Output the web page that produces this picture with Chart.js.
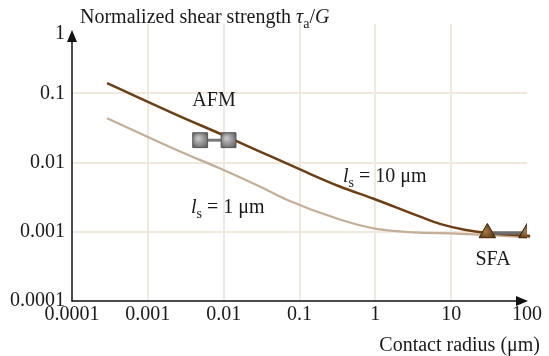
<!DOCTYPE html>
<html>
<head>
<meta charset="utf-8">
<script src="https://cdn.jsdelivr.net/npm/chart.js@4/dist/chart.umd.min.js"></script>
<style>
  html, body { margin: 0; padding: 0; background: #ffffff; }
  #wrap { width: 549px; height: 356px; }
</style>
</head>
<body>
<div id="wrap"><canvas id="c" width="549" height="356"></canvas></div>
<script>
// ---- data ----
const xTickValues = [0.0001, 0.001, 0.01, 0.1, 1, 10, 100];
const xTickLabels = ['0.0001', '0.001', '0.01', '0.1', '1', '10', '100'];
const yTickValues = [0.0001, 0.001, 0.01, 0.1, 1];
const yTickLabels = ['0.0001', '0.001', '0.01', '0.1', '1'];

// l_s = 10 µm curve
const ls10X = [0.00029, 0.0027, 0.009, 0.03, 0.1, 0.34, 0.95, 3.9, 7.1, 15, 30, 110];
const ls10Y = [0.14, 0.046, 0.026, 0.0144, 0.008, 0.0045, 0.003, 0.00165, 0.0013, 0.00107, 0.00096, 0.00087];

// l_s = 1 µm curve
const ls1X = [0.00029, 0.0027, 0.009, 0.03, 0.068, 0.34, 0.95, 3.9, 10, 110];
const ls1Y = [0.0435, 0.0143, 0.0082, 0.0045, 0.0029, 0.0015, 0.00112, 0.00097, 0.00095, 0.00083];

// AFM and SFA measurement ranges
const afmX = [0.0049, 0.0116];
const afmY = [0.021, 0.021];
const sfaX = [30, 100];
const sfaY = [0.00096, 0.00096];

const FONT = "'Liberation Serif', 'Times New Roman', serif";
const GRID = '#efe9df';

function pts(xs, ys) { return xs.map((x, i) => ({ x: x, y: ys[i] })); }

function gradFill(c, inner, outer) {
  if (c.type !== 'data' || !c.chart.chartArea) return outer;
  const ch = c.chart;
  const px = ch.scales.x.getPixelForValue(c.raw.x);
  const py = ch.scales.y.getPixelForValue(c.raw.y);
  const g = ch.ctx.createRadialGradient(px - 2, py - 2, 1, px, py, 10);
  g.addColorStop(0, inner);
  g.addColorStop(1, outer);
  return g;
}

function drawRuns(ctx, x, y, runs, align) {
  const base = 20, sub = 14;
  let total = 0;
  runs.forEach(r => {
    ctx.font = (r.italic ? 'italic ' : '') + (r.sub ? sub : base) + 'px ' + FONT;
    r.w = ctx.measureText(r.t).width;
    total += r.w;
  });
  let cx = align === 'center' ? x - total / 2 : (align === 'right' ? x - total : x);
  ctx.textAlign = 'left';
  ctx.textBaseline = 'alphabetic';
  runs.forEach(r => {
    ctx.font = (r.italic ? 'italic ' : '') + (r.sub ? sub : base) + 'px ' + FONT;
    ctx.fillText(r.t, cx, y + (r.sub ? 5 : 0));
    cx += r.w;
  });
}

const decor = {
  id: 'decor',
  afterDraw(chart) {
    const ctx = chart.ctx, a = chart.chartArea;
    ctx.save();
    ctx.strokeStyle = '#111';
    ctx.fillStyle = '#111';
    ctx.lineWidth = 1.5;
    // y axis with arrow
    ctx.beginPath(); ctx.moveTo(a.left, a.bottom + 0.5); ctx.lineTo(a.left, a.top + 14); ctx.stroke();
    ctx.beginPath(); ctx.moveTo(a.left, a.top + 6); ctx.lineTo(a.left - 5, a.top + 18); ctx.lineTo(a.left + 5, a.top + 18); ctx.closePath(); ctx.fill();
    // x axis with arrow
    ctx.beginPath(); ctx.moveTo(a.left - 0.5, a.bottom); ctx.lineTo(a.right - 8, a.bottom); ctx.stroke();
    ctx.beginPath(); ctx.moveTo(a.right + 1, a.bottom); ctx.lineTo(a.right - 11, a.bottom - 5); ctx.lineTo(a.right - 11, a.bottom + 5); ctx.closePath(); ctx.fill();

    // top tick label sits beside the arrow head
    ctx.fillStyle = '#1a1a1a';
    ctx.font = '20px ' + FONT;
    ctx.textAlign = 'right';
    ctx.textBaseline = 'middle';
    ctx.fillText(yTickLabels[yTickLabels.length - 1], a.left - 7, a.top + 10);

    // texts
    drawRuns(ctx, 80, 23, [
      { t: 'Normalized shear strength ' },
      { t: 'τ', italic: true },
      { t: 'a', sub: true },
      { t: '/' },
      { t: 'G', italic: true }
    ]);
    drawRuns(ctx, 540, 351, [{ t: 'Contact radius (μm)' }], 'right');
    drawRuns(ctx, 214, 106, [{ t: 'AFM' }], 'center');
    drawRuns(ctx, 493, 265, [{ t: 'SFA' }], 'center');
    drawRuns(ctx, 191, 213, [{ t: 'l', italic: true }, { t: 's', sub: true }, { t: ' = 1 μm' }]);
    drawRuns(ctx, 343, 182, [{ t: 'l', italic: true }, { t: 's', sub: true }, { t: ' = 10 μm' }]);
    ctx.restore();
  }
};

const gridColor = (c) => {
  if (!c.tick) return GRID;
  const v = c.tick.value, s = c.scale;
  return (v <= s.min * 1.0001 || v >= s.max * 0.9999) ? 'rgba(0,0,0,0)' : GRID;
};

new Chart(document.getElementById('c'), {
  type: 'scatter',
  data: {
    datasets: [
      {
        label: 'SFA',
        data: pts(sfaX, sfaY),
        showLine: true,
        borderColor: '#6d6d6d',
        borderWidth: 3.5,
        pointStyle: 'triangle',
        pointRadius: 9.5,
        pointBorderWidth: 1,
        pointBorderColor: '#3f2307',
        pointBackgroundColor: (c) => gradFill(c, '#a0733f', '#4a2a08'),
        order: 0
      },
      {
        label: 'AFM',
        data: pts(afmX, afmY),
        showLine: true,
        borderColor: '#7a7a7a',
        borderWidth: 3,
        pointStyle: 'rect',
        pointRadius: 10.5,
        pointBorderWidth: 1,
        pointBorderColor: '#555555',
        pointBackgroundColor: (c) => gradFill(c, '#c4c4c4', '#5a5a5a'),
        order: 1
      },
      {
        label: 'ls = 10 µm',
        data: pts(ls10X, ls10Y),
        showLine: true,
        borderColor: '#6e3f12',
        borderWidth: 2.5,
        pointRadius: 0,
        cubicInterpolationMode: 'monotone',
        clip: false,
        order: 2
      },
      {
        label: 'ls = 1 µm',
        data: pts(ls1X, ls1Y),
        showLine: true,
        borderColor: '#c5ae97',
        borderWidth: 2.2,
        pointRadius: 0,
        cubicInterpolationMode: 'monotone',
        clip: false,
        order: 3
      }
    ]
  },
  options: {
    responsive: false,
    animation: false,
    events: [],
    layout: { padding: { left: 0, right: 22, top: 24, bottom: 0 } },
    plugins: { legend: { display: false }, tooltip: { enabled: false } },
    scales: {
      x: {
        type: 'logarithmic',
        min: xTickValues[0],
        max: xTickValues[xTickValues.length - 1],
        afterBuildTicks: (s) => { s.ticks = xTickValues.map(v => ({ value: v })); },
        afterFit: (s) => { s.height = 55; },
        grid: { color: gridColor, lineWidth: 2, drawTicks: false },
        border: { display: false },
        ticks: {
          autoSkip: false, maxRotation: 0, padding: 2,
          color: '#1a1a1a',
          font: { family: FONT, size: 20 },
          callback: (v, i) => xTickLabels[i]
        }
      },
      y: {
        type: 'logarithmic',
        min: yTickValues[0],
        max: yTickValues[yTickValues.length - 1],
        afterBuildTicks: (s) => { s.ticks = yTickValues.map(v => ({ value: v })); },
        afterFit: (s) => { s.width = 72; },
        grid: { color: gridColor, lineWidth: 2, drawTicks: false },
        border: { display: false },
        ticks: {
          autoSkip: false, padding: 7,
          color: '#1a1a1a',
          font: { family: FONT, size: 20 },
          callback: (v, i) => (i === yTickLabels.length - 1 ? '' : yTickLabels[i])
        }
      }
    }
  },
  plugins: [decor]
});
</script>
</body>
</html>
